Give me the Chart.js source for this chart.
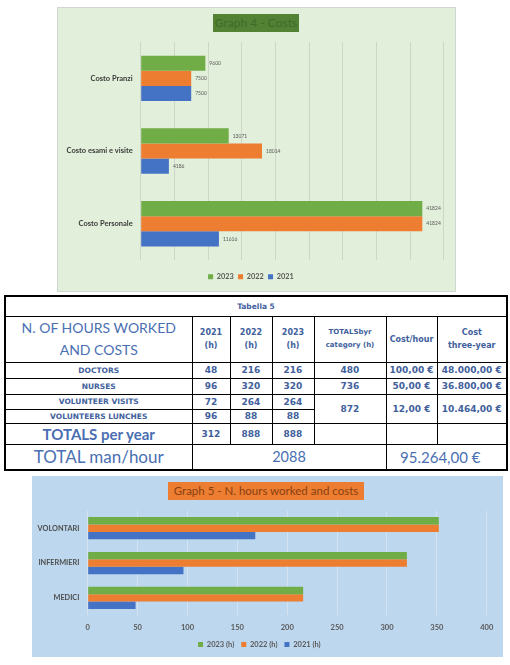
<!DOCTYPE html>
<html><head><meta charset="utf-8">
<script src="https://cdn.jsdelivr.net/npm/chart.js@4.4.1/dist/chart.umd.min.js"></script>
<style>
html,body{margin:0;padding:0;background:#fff;width:510px;height:665px;overflow:hidden;font-family:Lato,"Open Sans",sans-serif;}
.box{position:absolute;}
#g4{left:58px;top:8px;width:397px;height:283px;background:#e2efda;outline:1px solid #d2d6d0;}
#g5{left:32px;top:476px;width:471px;height:181px;background:#bdd7ee;}
canvas{position:absolute;left:0;top:0;}
.ttl{position:absolute;text-align:center;white-space:nowrap;}
#t4{left:213px;top:14px;width:86px;height:18px;line-height:18px;background:#548235;color:#3f6a28;font-size:12px;}
#t5{left:168px;top:482px;width:196px;height:18px;line-height:18px;background:#ed7d31;color:#8a3f10;font-size:11.5px;}
#tab{position:absolute;left:4px;top:295px;width:502px;border-collapse:collapse;table-layout:fixed;border:2px solid #000;color:#41609c;}
#tab td{border:1px solid #000;text-align:center;vertical-align:middle;padding:0;font-family:"DejaVu Sans",sans-serif;font-weight:bold;overflow:hidden;white-space:nowrap;}
#tab td.big{font-family:Lato,sans-serif;font-weight:normal;color:#4a6fb2;}
</style></head>
<body>
<div id="g4" class="box"><canvas id="c4" width="397" height="283"></canvas></div>
<div id="t4" class="ttl">Graph 4 - Costs</div>
<table id="tab"></table>
<div id="g5" class="box"><canvas id="c5" width="471" height="183"></canvas></div>
<div id="t5" class="ttl">Graph 5 - N. hours worked and costs</div>
<script>
// ---- Graph 4 data ----
const costCategories = ['Costo Pranzi', 'Costo esami e visite', 'Costo Personale'];
const cost2023 = [9600, 13071, 41824];
const cost2022 = [7500, 18014, 41824];
const cost2021 = [7500, 4186, 11616];

// ---- Table data ----
const tableTitle = 'Tabella 5';
const rowLabels = ['DOCTORS', 'NURSES', 'VOLUNTEER VISITS', 'VOLUNTEERS LUNCHES'];
const hours2021 = [48, 96, 72, 96];
const hours2022 = [216, 320, 264, 88];
const hours2023 = [216, 320, 264, 88];
const categoryTotals = ['480', '736', '872'];
const costPerHour = ['100,00 €', '50,00 €', '12,00 €'];
const costThreeYear = ['48.000,00 €', '36.800,00 €', '10.464,00 €'];
const yearTotals = [312, 888, 888];
const totalManHour = '2088';
const totalCost = '95.264,00 €';

// ---- Graph 5 data ----
const hourCategories = ['VOLONTARI', 'INFERMIERI', 'MEDICI'];
const hrs2023 = [352, 320, 216];
const hrs2022 = [352, 320, 216];
const hrs2021 = [168, 96, 48];

const GREEN = '#70ad47', ORANGE = '#ed7d31', BLUE = '#4472c4';

// ---- build table ----
(function(){
  const t = document.getElementById('tab');
  const widths = [187, 38, 42, 42, 72, 51, 70];
  const NF = 'font-size:9px';
  const num = v => '<td style="' + NF + '">' + v + '</td>';
  let h = '<colgroup>' + widths.map(w => '<col style="width:' + w + 'px">').join('') + '</colgroup>';
  h += '<tr style="height:20px"><td colspan="7" style="font-size:7.5px">' + tableTitle + '</td></tr>';
  h += '<tr style="height:46px"><td class="big" style="font-size:14px;line-height:22px">N. OF HOURS WORKED<br>AND COSTS</td>' +
       '<td style="font-size:8px;line-height:13px">2021<br>(h)</td><td style="font-size:8px;line-height:13px">2022<br>(h)</td><td style="font-size:8px;line-height:13px">2023<br>(h)</td>' +
       '<td style="font-size:7px;line-height:13px">TOTALSbyr<br>category (h)</td><td style="font-size:8px">Cost/hour</td>' +
       '<td style="font-size:8px;line-height:13px">Cost<br>three-year</td></tr>';
  const rh = [16, 16, 15, 14];
  for (let i = 0; i < 4; i++) {
    h += '<tr style="height:' + rh[i] + 'px"><td style="font-size:7.5px">' + rowLabels[i] + '</td>' +
      num(hours2021[i]) + num(hours2022[i]) + num(hours2023[i]);
    if (i < 2) {
      h += num(categoryTotals[i]) + num(costPerHour[i]) + num(costThreeYear[i]);
    } else if (i === 2) {
      h += '<td rowspan="2" style="' + NF + '">' + categoryTotals[2] + '</td><td rowspan="2" style="' + NF + '">' + costPerHour[2] + '</td><td rowspan="2" style="' + NF + '">' + costThreeYear[2] + '</td>';
    }
    h += '</tr>';
  }
  h += '<tr style="height:21px"><td class="big" style="font-size:15px;font-weight:bold">TOTALS per year</td>' +
       yearTotals.map(v => num(v)).join('') + '<td></td><td></td><td></td></tr>';
  h += '<tr style="height:26px"><td class="big" style="font-size:17px">TOTAL man/hour</td>' +
       '<td colspan="4" class="big" style="font-size:14.5px">' + totalManHour + '</td>' +
       '<td colspan="2" class="big" style="font-size:15px;padding-right:12px">' + totalCost + '</td></tr>';
  t.innerHTML = h;
})();

// ---- bar end labels plugin ----
const endLabels = {
  id: 'endLabels',
  afterDatasetsDraw(chart) {
    const ctx = chart.ctx;
    ctx.save();
    ctx.font = '5px Lato';
    ctx.fillStyle = '#595959';
    ctx.textBaseline = 'middle';
    ctx.textAlign = 'left';
    chart.data.datasets.forEach((ds, i) => {
      chart.getDatasetMeta(i).data.forEach((bar, j) => {
        ctx.fillText(String(ds.data[j]), bar.x + 4, bar.y);
      });
    });
    ctx.restore();
  }
};

Chart.defaults.font.family = 'Lato, "Open Sans", sans-serif';

new Chart(document.getElementById('c4'), {
  type: 'bar',
  data: {
    labels: costCategories,
    datasets: [
      { label: '2023', data: cost2023, backgroundColor: GREEN },
      { label: '2022', data: cost2022, backgroundColor: ORANGE },
      { label: '2021', data: cost2021, backgroundColor: BLUE }
    ]
  },
  options: {
    indexAxis: 'y',
    responsive: false,
    animation: false,
    devicePixelRatio: 1,
    datasets: { bar: { barPercentage: 1, categoryPercentage: 0.625 } },
    layout: { padding: { top: 34, right: 11.3, left: 0, bottom: 0.6 } },
    scales: {
      x: {
        min: 0, max: 45000,
        ticks: { display: false, stepSize: 5000 },
        grid: { color: '#cdd6c8', drawTicks: false },
        border: { display: false },
        afterFit(s) { s.height = 8.6; }
      },
      y: {
        grid: { display: false, drawTicks: false },
        border: { display: false },
        ticks: { color: '#3a3a3a', font: { size: 7.5, weight: 'bold' }, padding: 8 },
        afterFit(s) { s.width = 82.7; }
      }
    },
    plugins: {
      legend: {
        position: 'bottom',
        labels: { boxWidth: 5, boxHeight: 5, padding: 4.4, color: '#595959', font: { size: 7.3, weight: 'bold' } }
      },
      tooltip: { enabled: false }
    }
  },
  plugins: [endLabels]
});

new Chart(document.getElementById('c5'), {
  type: 'bar',
  data: {
    labels: hourCategories,
    datasets: [
      { label: '2023 (h)', data: hrs2023, backgroundColor: GREEN },
      { label: '2022 (h)', data: hrs2022, backgroundColor: ORANGE },
      { label: '2021 (h)', data: hrs2021, backgroundColor: BLUE }
    ]
  },
  options: {
    indexAxis: 'y',
    responsive: false,
    animation: false,
    devicePixelRatio: 1,
    datasets: { bar: { barPercentage: 1, categoryPercentage: 0.64 } },
    layout: { padding: { top: 34.8, right: 16.3, left: 0, bottom: 0.8 } },
    scales: {
      x: {
        min: 0, max: 400,
        ticks: { stepSize: 50, color: '#595959', font: { size: 7.5, weight: 'bold' }, padding: 7.4 },
        grid: { color: '#d3e3f2', drawTicks: false },
        border: { display: false },
        afterFit(s) { s.height = 18.4; }
      },
      y: {
        grid: { display: false, drawTicks: false },
        border: { display: false },
        ticks: { color: '#4d4d4d', font: { size: 7.3, weight: 'bold' }, padding: 8.4 },
        afterFit(s) { s.width = 55.7; }
      }
    },
    plugins: {
      legend: {
        position: 'bottom',
        labels: { boxWidth: 5, boxHeight: 5, padding: 7, color: '#595959', font: { size: 7.5, weight: 'bold' } }
      },
      tooltip: { enabled: false }
    }
  }
});
</script>
</body></html>
